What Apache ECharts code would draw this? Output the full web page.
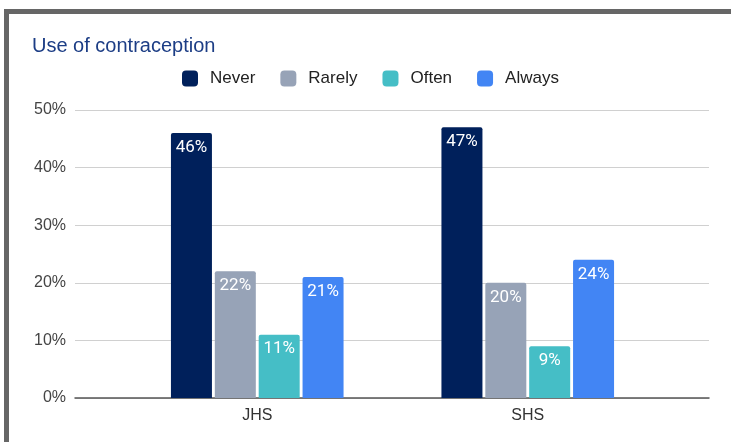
<!DOCTYPE html>
<html><head><meta charset="utf-8">
<script src="https://cdn.jsdelivr.net/npm/echarts@6/dist/echarts.min.js"></script>
<style>
html,body{margin:0;padding:0;background:#fff;}
#c{position:absolute;left:0;top:0;width:731px;height:442px;}
#frame{position:absolute;left:4px;top:9px;width:727px;height:433px;border-top:5px solid #666;border-left:5px solid #666;box-sizing:border-box;pointer-events:none;}
</style></head>
<body>
<div id="c"></div>
<div id="frame"></div>
<script>
const categories = ['JHS', 'SHS'];
const never  = [46, 47];
const rarely = [22, 20];
const often  = [11, 9];
const always = [21, 24];
const seriesNames = ['Never', 'Rarely', 'Often', 'Always'];
const colors = ['#00205b', '#97a3b7', '#45bec6', '#4285f4'];
const yTicks = [0, 10, 20, 30, 40, 50];

const chart = echarts.init(document.getElementById('c'));
const sans = '"Liberation Sans", Arial, sans-serif';
const roboto = 'Roboto, "Liberation Sans", sans-serif';
function mk(name, data, i) {
  return {
    name: name, type: 'bar', data: data, xAxisIndex: 1, yAxisIndex: 1,
    barWidth: 41, barGap: '7%',
    itemStyle: { color: colors[i], borderRadius: [2, 2, 0, 0] },
    label: { show: true, position: 'insideTop', distance: 6, color: '#fff',
      fontFamily: roboto, fontSize: 17, fontWeight: 'normal', formatter: p => p.value + '%' }
  };
}
chart.setOption({
  animation: false,
  color: colors,
  title: { text: 'Use of contraception', left: 32, top: 36, padding: 0,
    textStyle: { fontFamily: sans, fontSize: 20, fontWeight: 'normal', color: '#1c3d85' } },
  legend: { data: seriesNames, left: 182, top: 70, itemWidth: 16, itemHeight: 16, itemGap: 25,
    icon: 'roundRect', padding: 0,
    textStyle: { fontFamily: sans, fontSize: 17, color: '#222', padding: [1, 0, 0, 7] } },
  grid: [
    { left: 75, right: 22, top: 110, bottom: 44 },
    { left: 122, right: 68, top: 110, bottom: 44 }
  ],
  xAxis: [
    { gridIndex: 0, type: 'category', data: ['x'], axisLine: { show: true, lineStyle: { color: '#555', width: 1.5 } },
      axisTick: { show: false }, axisLabel: { show: false } },
    { gridIndex: 1, type: 'category', data: categories, axisLine: { show: false }, axisTick: { show: false },
      axisLabel: { fontFamily: sans, fontSize: 16, color: '#333', margin: 10 } }
  ],
  yAxis: [
    { gridIndex: 0, type: 'value', min: yTicks[0], max: yTicks[yTicks.length - 1], interval: 10,
      axisLabel: { fontFamily: sans, fontSize: 16, color: '#444', margin: 9, formatter: v => v + '%' },
      splitLine: { lineStyle: { color: '#d0d0d0', width: 1 } }, axisLine: { show: false }, axisTick: { show: false } },
    { gridIndex: 1, type: 'value', min: yTicks[0], max: yTicks[yTicks.length - 1], interval: 10,
      show: false, splitLine: { show: false } }
  ],
  series: [mk('Never', never, 0), mk('Rarely', rarely, 1), mk('Often', often, 2), mk('Always', always, 3)]
});
</script>
</body></html>
